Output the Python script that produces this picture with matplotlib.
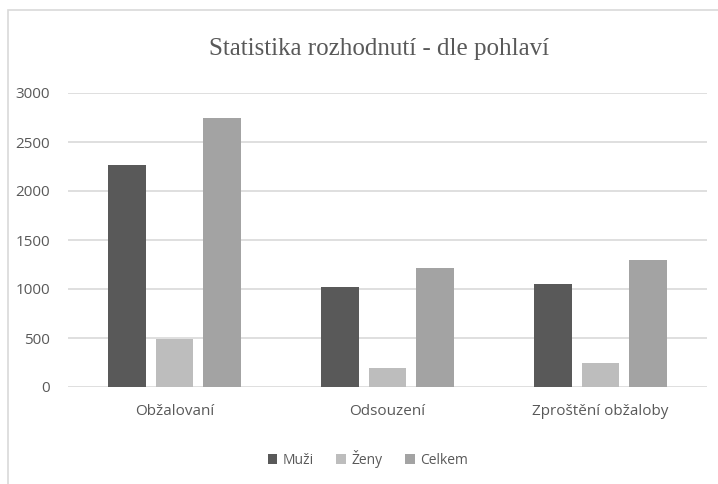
import numpy as np
import matplotlib
matplotlib.use("Agg")
import matplotlib.pyplot as plt
from matplotlib.patches import Rectangle

categories = ["Obžalovaní", "Odsouzení", "Zproštění obžaloby"]
series_names = ["Muži", "Ženy", "Celkem"]
muzi = [2270, 1020, 1050]
zeny = [490, 190, 240]
celkem = [2750, 1210, 1300]
yticks = [0, 500, 1000, 1500, 2000, 2500, 3000]

colors = ["#595959", "#bdbdbd", "#a3a3a3"]
text_col = "#595959"

plt.rcParams['font.family'] = ['Open Sans', 'DejaVu Sans']

fig = plt.figure(figsize=(7.18, 4.84), dpi=100)
fig.patches.append(Rectangle((8/718, -0.1), 1.2, 1 - 10/484 + 0.1, transform=fig.transFigure,
                             fill=False, edgecolor="#d9d9d9", linewidth=1.2, zorder=0))

ax = fig.add_axes([68/718, 1 - 387/484, 639/718, 294/484])
x = np.arange(len(categories))
w = 0.178
step = 0.225
for i, (vals, name) in enumerate(zip([muzi, zeny, celkem], series_names)):
    ax.bar(x + (i - 1) * step, vals, width=w, color=colors[i], label=name, zorder=3)

ax.set_xlim(-0.5, len(categories) - 0.5)
ax.set_ylim(0, 3000)
ax.set_yticks(yticks)
ax.set_yticklabels([str(t) for t in yticks])
ax.set_xticks(x)
ax.set_xticklabels(categories)
ax.yaxis.grid(True, color="#d9d9d9", linewidth=1.2, zorder=0)
for s in ax.spines.values():
    s.set_visible(False)
ax.tick_params(axis="both", length=0, colors=text_col, labelsize=11)
ax.tick_params(axis="y", pad=13)
ax.tick_params(axis="x", pad=12)

fig.text(379/718, 1 - 49/484, "Statistika rozhodnutí - dle pohlaví", ha="center", va="center",
         fontsize=18, color=text_col, family="Liberation Serif")

leg = fig.legend(loc="center", bbox_to_anchor=(368/718, 1 - 459/484), ncol=3, frameon=False,
                 fontsize=10, handlelength=0.7, handleheight=0.7, handletextpad=0.4, columnspacing=1.6)
for t in leg.get_texts():
    t.set_color(text_col)

fig.savefig("out.png", dpi=100)
